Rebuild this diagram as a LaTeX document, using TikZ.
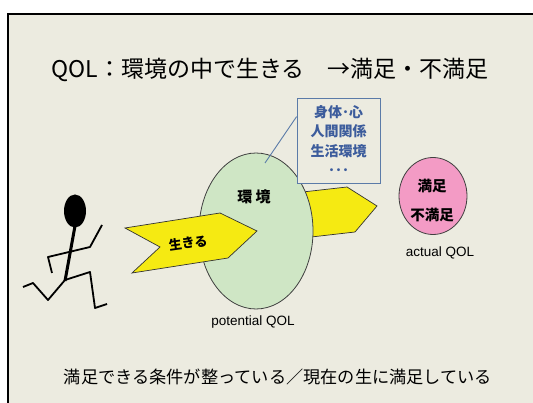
\documentclass[tikz,border=0pt]{standalone}
\usepackage{fontspec}
\setmainfont{Noto Sans CJK JP}
\newfontfamily\arialish{Liberation Sans}
\usetikzlibrary{shapes.geometric}
\definecolor{paper}{HTML}{ECEBE0}
\definecolor{envgreen}{HTML}{CFE6C5}
\definecolor{lifeyellow}{HTML}{F5EA12}
\definecolor{qolpink}{HTML}{F39BC5}
\definecolor{tagblue}{HTML}{5B7BA8}
\definecolor{tagtext}{HTML}{3C5C9C}
\begin{document}
\begin{tikzpicture}[x=1pt,y=-1pt,
  envnode/.style={shape=ellipse, draw=black!75, line width=0.8pt, fill=envgreen, minimum width=114pt, minimum height=156pt},
  qolnode/.style={shape=ellipse, draw=black!75, line width=0.8pt, fill=qolpink, minimum width=68pt, minimum height=77pt},
  arrowshape/.style={draw=black!80, line width=0.7pt, fill=lifeyellow, line join=miter},
  tagbox/.style={draw=tagblue, line width=0.8pt, fill=paper, text=tagtext, font=\bfseries\fontsize{14}{19.5}\selectfont, align=center, minimum width=83pt, minimum height=85pt, inner sep=0pt},
  limb/.style={line width=1.8pt, line join=round},
  caption/.style={font=\arialish\fontsize{13.5}{14}\selectfont}
  ]
	\useasboundingbox (0,0) rectangle (533,403);
	\fill[white] (0,0) rectangle (533,403); %margin
	\begin{scope}
	\clip (0,0) rectangle (533,403);
	\draw[line width=2.5pt, fill=paper] (8,14) rectangle (560,430); %slide frame
	\end{scope}

	%title
	\node[font=\fontsize{23}{23}\selectfont] (title) at (270,70) {QOL：環境の中で生きる　→満足・不満足};

	%runner-------------------------------------------------
	\fill (75,211) ellipse [x radius=11, y radius=16.5]; %head
	\draw[line width=3pt] (75,226) -- (65,281); %body
	\draw[limb] (52,273) -- (48,257) -- (90,247) -- (102,225); %arms
	\draw[limb] (65,280) -- (48,300) -- (33,283) -- (23,287); %back leg
	\draw[limb] (65,280) -- (90,272) -- (95,308) -- (107,304); %front leg

	%environment--------------------------------------------
	\draw[arrowshape] (285,194) -- (347,187) -- (377,206) -- (355,232) -- (285,240) -- cycle; %arrow out
	\node[envnode] (env) at (256,231) {};
	\node[font=\bfseries\fontsize{15}{15}\selectfont] (envlabel) at (254,197) {環 境}; %env label
	\node[caption] (potential) at (253,322) {potential QOL};

	%living arrow
	\draw[arrowshape] (125,228) -- (220,213) -- (257,231) -- (228,258) -- (132,273) -- (160,247) -- cycle;
	\node[font=\bfseries\fontsize{13}{13}\selectfont, rotate=8] (live) at (188,243) {生きる};

	%conditions box
	\node[tagbox] (tag) at (338.5,140.5) {身体･心\\人間関係\\生活環境\\･･･};
	\coordinate (tagtip) at (265,163);
	\draw[tagblue, line width=0.9pt] ([yshift=-19pt]tag.north west) -- (tagtip); %leader

	%actual QOL---------------------------------------------
	\node[qolnode] (qol) at (433,196) {};
	\node[font=\bfseries\fontsize{14.5}{14.5}\selectfont] (sat) at (432,186) {満足};
	\node[font=\bfseries\fontsize{14.5}{14.5}\selectfont] (unsat) at (432,215) {不満足};
	\node[caption] (actual) at (440,253) {actual QOL};

	%bottom line
	\node[font=\fontsize{17.2}{17.2}\selectfont] (summary) at (278,377) {満足できる条件が整っている／現在の生に満足している};
\end{tikzpicture}
\end{document}
